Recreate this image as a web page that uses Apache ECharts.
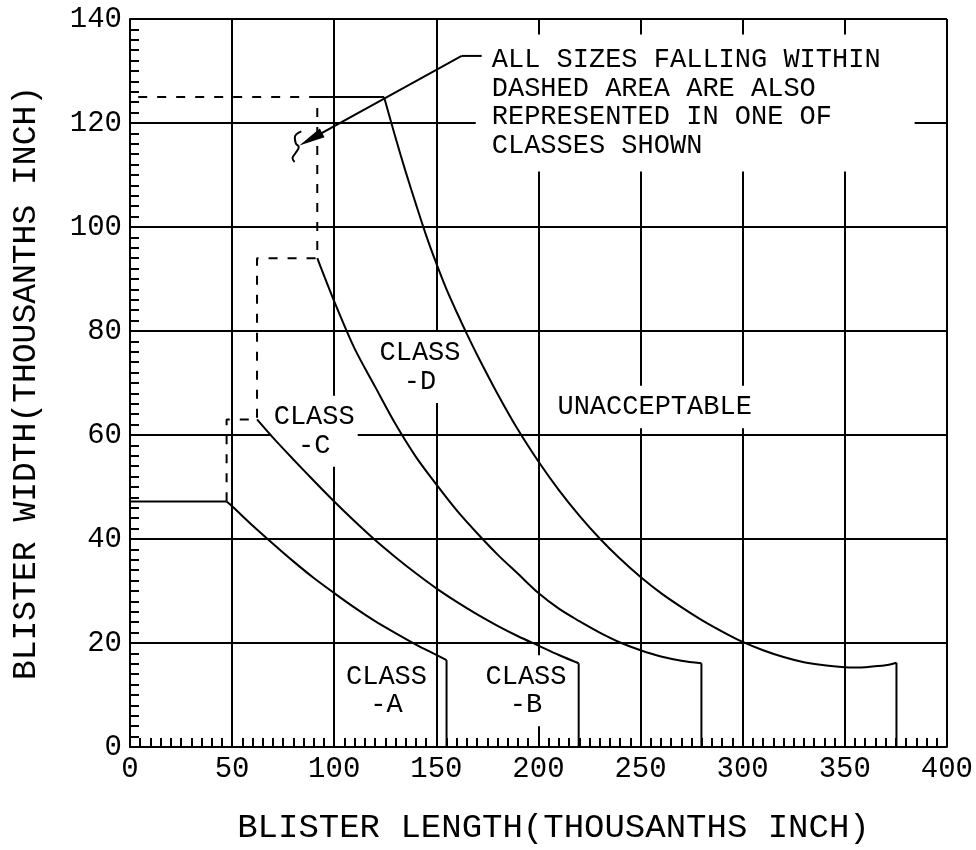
<!DOCTYPE html>
<html>
<head>
<meta charset="utf-8">
<script src="https://cdn.jsdelivr.net/npm/echarts@6/dist/echarts.min.js"></script>
<style>
html,body{margin:0;padding:0;background:#fff;overflow:hidden;}
#chart{width:976px;height:850px;}
</style>
</head>
<body>
<div id="chart"></div>
<script>
// ---- data (thousandths of an inch) ----
const curveA = [[47.3,47.2],[50,46.3],[60,42.6],[70,39.1],[80,35.7],[90,32.5],[100,29.6],[110,26.8],[120,24.2],[130,21.9],[140,19.7],[150,17.7],[155,16.7]];
const curveB = [[62.2,63],[70,59.5],[80,55.3],[90,51.2],[100,47.2],[110,43.4],[120,39.8],[130,36.5],[140,33.4],[150,30.5],[160,27.9],[170,25.5],[180,23.3],[190,21.3],[200,19.5],[210,17.7],[219.7,16.1]];
const curveC = [[91.7,94],[100,85.7],[110,76.6],[120,69.3],[130,62.1],[140,55.8],[150,50.5],[160,45.5],[170,41.1],[180,37.0],[190,33.3],[200,29.6],[210,26.6],[220,24.2],[230,22.0],[240,20.1],[250,18.6],[260,17.4],[270,16.6],[279.8,16.1]];
const curveD = [[124.4,125],[130,117.2],[135,110.6],[140,104.4],[145,98.4],[150,93.0],[155,88.0],[160,83.6],[165,79.4],[170,75.4],[180,67.9],[190,61.0],[200,54.9],[210,49.4],[220,44.5],[230,40.1],[240,36.2],[250,32.7],[260,29.6],[270,26.9],[280,24.4],[290,22.2],[300,20.2],[310,18.6],[320,17.3],[330,16.3],[340,15.7],[350,15.35],[355,15.3],[360,15.35],[370,15.7],[375.3,16.2]];

const topA  = [[0,47.2],[47.3,47.2]];
const topD  = [[91.7,125],[124.4,125]];
const dropA = [[155,16.7],[155,0]];
const dropB = [[219.7,16.1],[219.7,0]];
const dropC = [[279.8,16.1],[279.8,0]];
const dropD = [[375.3,16.2],[375.3,0]];
const dashedEdge = [[4,125],[91.7,125],[91.7,94],[62.2,94],[62.2,63],[47.3,63],[47.3,47.2]];

const leader = [[172.2,132.9],[162.4,132.9]];
const arrowShaft = [[162.4,132.9],[88.5,116.9]];
const breakMark = [[83.9,118.4],[80.7,117.2],[81.2,116.1],[82.6,115.4],[81.2,114.3],[79.6,113.2],[80.6,112.5]];

const classNames = ['CLASS\n-A','CLASS\n-B','CLASS\n-C','CLASS\n-D','UNACCEPTABLE'];
const classAnchors = [[125.6,10.8],[193.9,10.8],[90.2,60.7],[142.0,73.0],[256.9,65.4]];
const noteText = 'ALL SIZES FALLING WITHIN\nDASHED AREA ARE ALSO\nREPRESENTED IN ONE OF\nCLASSES SHOWN';
const noteAnchor = [169.3,123.85];

const xTitle = 'BLISTER LENGTH(THOUSANTHS INCH)';
const yTitle = 'BLISTER WIDTH(THOUSANTHS INCH)';

// ---- chart ----
const FONT = 'Liberation Mono';
const black = '#000';
const chart = echarts.init(document.getElementById('chart'), null, {renderer:'canvas', width:976, height:850});

function solid(data, smooth){
  return {type:'line', data:data, smooth:smooth||false, symbol:'none', silent:true, z:3,
    lineStyle:{color:black, width:2}};
}

const textBase = {color:black, fontFamily:FONT, fontSize:27, lineHeight:28.5, opacity:1};

const option = {
  animation:false,
  backgroundColor:'#fff',
  grid:{left:130, right:26, top:19, bottom:98, containLabel:false},
  xAxis:{
    type:'value', min:0, max:400, interval:50,
    name:xTitle, nameLocation:'middle', nameGap:64,
    nameTextStyle:{color:black, fontFamily:FONT, fontSize:34, padding:[0,0,0,30]},
    axisLine:{show:true, onZero:false, lineStyle:{color:black, width:2}},
    axisTick:{show:true, inside:true, length:9, lineStyle:{color:black, width:2}},
    minorTick:{show:true, splitNumber:10, length:9, lineStyle:{color:black, width:2}},
    axisLabel:{color:black, fontFamily:FONT, fontSize:29, margin:8},
    splitLine:{show:true, lineStyle:{color:black, width:2}}
  },
  yAxis:{
    type:'value', min:0, max:140, interval:20,
    name:yTitle, nameLocation:'middle', nameGap:87,
    nameTextStyle:{color:black, fontFamily:FONT, fontSize:33},
    axisLine:{show:true, onZero:false, lineStyle:{color:black, width:2}},
    axisTick:{show:true, inside:true, length:9, lineStyle:{color:black, width:2}},
    minorTick:{show:true, splitNumber:10, length:9, lineStyle:{color:black, width:2}},
    axisLabel:{color:black, fontFamily:FONT, fontSize:29, margin:8},
    splitLine:{show:true, lineStyle:{color:black, width:2}}
  },
  series:[
    // text labels with white backing that break the grid
    {type:'scatter', z:1, silent:true, symbolSize:0, itemStyle:{opacity:1},
      data:classNames.map((n,i)=>({name:n, value:classAnchors[i],
        label: i===0 ? {backgroundColor:'transparent'} : {}})),
      label:Object.assign({show:true, position:'inside', formatter:p=>p.name,
        align:'center', verticalAlign:'middle', backgroundColor:'#fff', padding:[7,3]}, textBase)
    },
    {type:'scatter', z:1, silent:true, symbolSize:0, itemStyle:{opacity:1},
      data:[{name:noteText, value:noteAnchor}],
      label:Object.assign({show:true, position:'right', distance:0, formatter:p=>p.name,
        align:'left', verticalAlign:'middle', backgroundColor:'#fff', padding:[11.5,34,11.5,16]}, textBase)
    },
    solid(curveA, 0.3), solid(curveB, 0.3), solid(curveC, 0.3), solid(curveD, 0.3),
    solid(topA), solid(topD), solid(dropA), solid(dropB), solid(dropC), solid(dropD),
    {type:'line', data:dashedEdge, symbol:'none', silent:true, z:3,
      lineStyle:{color:black, width:2, type:[9,10]}},
    solid(leader),
    solid(breakMark, 0.5),
    {type:'lines', coordinateSystem:'cartesian2d', silent:true, z:4,
      symbol:['none','triangle'], symbolSize:[0,[10,26]],
      lineStyle:{color:black, width:2, opacity:1},
      itemStyle:{color:black},
      data:[{coords:arrowShaft}]}
  ]
};
chart.setOption(option);
</script>
</body>
</html>
